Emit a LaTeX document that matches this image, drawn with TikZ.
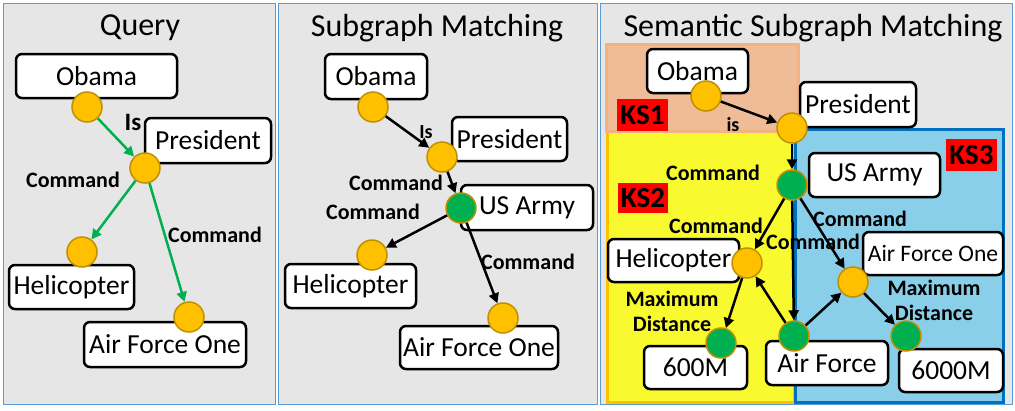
\documentclass[tikz,border=0pt]{standalone}
\usepackage{fontspec}
\setmainfont{Carlito}
\usetikzlibrary{arrows.meta}
\definecolor{panelbg}{HTML}{E7E6E6}
\definecolor{panelbd}{HTML}{5B9BD5}
\definecolor{gold}{HTML}{FFC000}
\definecolor{goldbd}{HTML}{BF9000}
\definecolor{mygreen}{HTML}{00B050}
\definecolor{ksone}{HTML}{F0BC98}
\definecolor{ksonebd}{HTML}{F4B183}
\definecolor{kstwo}{HTML}{F9F92F}
\definecolor{ksthree}{HTML}{89CFEA}
\definecolor{ksthreebd}{HTML}{0070C0}
\tikzset{
  panel/.style={fill=panelbg, draw=panelbd, line width=1pt},
  title/.style={font=\fontsize{32}{37}\selectfont, inner sep=0pt},
  ent/.style={draw=black, fill=white, line width=2.5pt, rounded corners=6pt,
    inner sep=0pt, font=\fontsize{27.5}{32}\selectfont},
  dot/.style={circle, fill=gold, draw=goldbd, line width=1.5pt, minimum size=30pt, inner sep=0pt},
  gdot/.style={dot, fill=mygreen},
  lab/.style={font=\fontsize{22}{25}\selectfont\bfseries, inner sep=0pt, align=center},
  ks/.style={fill=red, inner sep=0pt, font=\fontsize{29}{32}\selectfont\bfseries},
  garr/.style={draw=mygreen, line width=2.5pt, -{Triangle[length=10pt,width=10pt]}},
  barr/.style={draw=black, line width=2.5pt, -{Triangle[length=10pt,width=10pt]}},
}
\begin{document}
\begin{tikzpicture}[x=1pt,y=-1pt]
\useasboundingbox (0,0) rectangle (1015,410);
% panels
\draw[panel] (3,3) rectangle (275,404);
\draw[panel] (278,3) rectangle (597,404);
\draw[panel] (600,3) rectangle (1012,404);
\node[title] (t1) at (140,28) {Query};
\node[title] (t2) at (437,28) {Subgraph Matching};
\node[title] (t3) at (813,28) {Semantic Subgraph Matching};

% ---------- Panel 1 ----------
\node[ent, minimum width=161pt, minimum height=44pt] (qobama) at (96.5,76) {Obama};
\node[ent, minimum width=126pt, minimum height=45pt] (qpres) at (208,140.5) {President};
\node[ent, minimum width=125pt, minimum height=44pt] (qheli) at (71.5,287) {Helicopter};
\node[ent, minimum width=162pt, minimum height=45pt] (qafo) at (165,344.5) {Air Force One};
\node[dot] (qc1) at (87,107) {};
\node[dot] (qc2) at (145,168) {};
\node[dot] (qc3) at (82,252) {};
\node[dot] (qc4) at (189,317) {};
\draw[garr] (qc1) -- (qc2);
\draw[garr] (qc2) -- (qc3);
\draw[garr] (qc2) -- (qc4);
\node[lab, font=\fontsize{25}{30}\selectfont\bfseries] (ql1) at (133,122) {Is};
\node[lab] (ql2) at (73,180) {Command};
\node[lab] (ql3) at (215,235) {Command};

% ---------- Panel 2 ----------
\node[ent, minimum width=102pt, minimum height=45pt] (sobama) at (376,76.5) {Obama};
\node[ent, minimum width=115pt, minimum height=44pt] (spres) at (509.5,139) {President};
\node[ent, minimum width=132pt, minimum height=45pt] (sarmy) at (527,207.5) {\hspace*{0pt}US Army};
\node[ent, minimum width=158pt, minimum height=43pt] (safo) at (479,347.5) {Air Force One};
\node[ent, minimum width=131pt, minimum height=44pt] (sheli) at (350.5,286) {Helicopter};
\node[dot] (sc1) at (373,107) {};
\node[dot] (sc2) at (442,157) {};
\node[gdot] (sc3) at (461,208) {};
\node[dot] (sc4) at (372,255) {};
\node[dot] (sc5) at (503,318) {};
\draw[barr] (sc1) -- (sc2);
\draw[barr] (sc2) -- (sc3);
\draw[barr] (sc3) -- (sc4);
\draw[barr] (sc3) -- (sc5);
\node[lab, font=\fontsize{20}{24}\selectfont\bfseries] (sl1) at (426,132) {Is};
\node[lab] (sl2) at (396,183) {Command};
\node[lab] (sl3) at (373,212) {Command};
\node[lab] (sl4) at (528,262) {Command};

% ---------- Panel 3 ----------
\draw[fill=kstwo, draw=gold, line width=3pt] (607,131) rectangle (794,402);
\draw[fill=ksthree, draw=ksthreebd, line width=3pt] (795.5,129.5) rectangle (1003,402);
\draw[fill=ksone, draw=ksonebd, line width=3pt] (606.5,44.5) rectangle (798.5,131.5);
\node[ks, minimum width=51pt, minimum height=32pt] (ks1) at (642.5,115) {KS1};
\node[ks, minimum width=50pt, minimum height=30pt] (ks2) at (643,198) {KS2};
\node[ks, minimum width=51pt, minimum height=32pt] (ks3) at (971.5,155) {KS3};

\node[ent, minimum width=101pt, minimum height=44pt] (tobama) at (697.5,71) {Obama};
\node[ent, minimum width=116pt, minimum height=45pt] (tpres) at (858,104.5) {President};
\node[ent, minimum width=131pt, minimum height=44pt] (tarmy) at (874.5,175) {US Army};
\node[ent, minimum width=131pt, minimum height=43pt] (theli) at (673.5,260.5) {Helicopter};
\node[ent, minimum width=140pt, minimum height=43pt, font=\fontsize{23.6}{28}\selectfont] (tafo) at (933,253.5) {Air Force One};
\node[ent, minimum width=103pt, minimum height=43pt] (t600) at (695.5,367.5) {600M};
\node[ent, minimum width=122pt, minimum height=44pt] (taf) at (827,363) {Air Force};
\node[ent, minimum width=104pt, minimum height=43pt] (t6000) at (951,370.5) {6000M};

\node[dot] (tc1) at (706,96) {};
\node[dot] (tc2) at (792,128) {};
\node[gdot] (tc3) at (792,185) {};
\node[dot] (tc4) at (747,263) {};
\node[dot] (tc5) at (853,282) {};
\node[gdot] (tc6) at (721,343) {};
\node[gdot] (tc7) at (794,336) {};
\node[gdot] (tc8) at (906,336) {};

\draw[barr] (tc1) -- (tc2);
\draw[barr] (tc2) -- (tc3);
\draw[barr] (tc3) -- (tc4);
\draw[barr] (tc3) -- (tc7);
\draw[barr] (tc3) -- (tc5);
\draw[barr] (tc4) -- (tc6);
\draw[barr] (tc7) -- (tc4);
\draw[barr] (tc7) -- (tc5);
\draw[barr] (tc5) -- (tc8);

\node[lab, font=\fontsize{20}{24}\selectfont\bfseries] (tl1) at (733,125) {is};
\node[lab] (tl2) at (713,173) {Command};
\node[lab] (tl3) at (716,226) {Command};
\node[lab] (tl4) at (813,242) {Command};
\node[lab] (tl5) at (860,219) {Command};
\node[lab] (tl6) at (672,311.5) {Maximum\\Distance};
\node[lab] (tl7) at (934,300) {Maximum\\Distance};
\end{tikzpicture}
\end{document}
